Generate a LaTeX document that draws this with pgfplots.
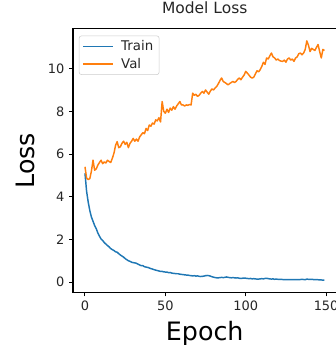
\documentclass[border=0pt]{standalone}
\usepackage{fontspec}
\setmainfont{DejaVu Sans}
\usepackage{pgfplots}
\pgfplotsset{compat=1.18}
\usepackage{pgfplotstable}
\definecolor{mplblue}{HTML}{1F77B4}
\definecolor{mplorange}{HTML}{FF7F0E}
\definecolor{mpltext}{HTML}{262626}

\pgfplotstableread{
ep train val
0 5.10 5.40
1 4.25 4.88
2 3.75 4.80
3 3.35 4.85
4 3.05 5.20
5 2.85 5.71
6 2.65 5.24
7 2.50 5.30
8 2.30 5.48
9 2.15 5.60
10 2.02 5.71
11 1.95 5.55
12 1.85 5.63
13 1.78 5.58
14 1.71 5.71
15 1.65 5.65
16 1.57 5.60
17 1.52 5.80
18 1.48 6.03
19 1.42 6.40
20 1.40 6.58
21 1.33 6.30
22 1.27 6.34
23 1.22 6.50
24 1.17 6.60
25 1.10 6.45
26 1.05 6.55
27 1.00 6.30
28 0.97 6.50
29 0.93 6.60
30 0.91 6.73
31 0.90 6.60
32 0.88 6.70
33 0.84 6.60
34 0.80 6.80
35 0.77 6.90
36 0.77 7.00
37 0.72 6.95
38 0.70 7.20
39 0.69 7.10
40 0.66 7.36
41 0.63 7.30
42 0.61 7.45
43 0.58 7.40
44 0.56 7.60
45 0.54 7.55
46 0.52 7.70
47 0.50 7.50
48 0.50 8.46
49 0.48 8.00
50 0.47 7.91
51 0.47 8.10
52 0.44 7.95
53 0.45 8.15
54 0.42 8.05
55 0.41 8.22
56 0.40 8.10
57 0.39 8.25
58 0.39 8.35
59 0.37 8.46
60 0.36 8.30
61 0.35 8.30
62 0.34 8.25
63 0.33 8.30
64 0.33 8.28
65 0.31 8.32
66 0.30 8.30
67 0.29 8.85
68 0.30 8.75
69 0.28 8.80
70 0.29 8.70
71 0.27 8.75
72 0.26 8.85
73 0.27 8.93
74 0.28 8.85
75 0.30 9.00
76 0.31 8.90
77 0.30 8.80
78 0.28 8.95
79 0.25 9.05
80 0.23 9.00
81 0.21 9.10
82 0.20 9.17
83 0.20 9.30
84 0.21 9.45
85 0.22 9.56
86 0.21 9.40
87 0.22 9.35
88 0.24 9.30
89 0.22 9.24
90 0.21 9.30
91 0.20 9.35
92 0.21 9.40
93 0.20 9.35
94 0.19 9.40
95 0.20 9.50
96 0.18 9.56
97 0.17 9.48
98 0.18 9.60
99 0.19 9.70
100 0.18 9.87
101 0.17 9.79
102 0.16 9.70
103 0.17 9.60
104 0.15 9.56
105 0.16 9.60
106 0.15 9.75
107 0.14 9.90
108 0.14 9.85
109 0.15 9.95
110 0.16 10.10
111 0.15 10.30
112 0.17 10.20
113 0.18 10.50
114 0.16 10.45
115 0.15 10.60
116 0.14 10.73
117 0.15 10.55
118 0.13 10.50
119 0.14 10.40
120 0.13 10.45
121 0.12 10.38
122 0.13 10.35
123 0.12 10.34
124 0.12 10.40
125 0.11 10.30
126 0.12 10.45
127 0.12 10.50
128 0.11 10.40
129 0.12 10.45
130 0.11 10.34
131 0.11 10.50
132 0.12 10.55
133 0.11 10.70
134 0.12 10.73
135 0.13 10.65
136 0.12 10.73
137 0.11 10.90
138 0.14 11.30
139 0.13 11.10
140 0.12 10.80
141 0.13 10.95
142 0.12 10.90
143 0.11 10.85
144 0.12 11.00
145 0.11 11.13
146 0.10 10.80
147 0.10 10.50
148 0.09 10.90
149 0.09 10.85
}\losstable

\begin{document}
\begin{tikzpicture}
\begin{axis}[
  name=ax,
  scale only axis,
  width=197.55pt, height=197.5pt,
  xmin=-7.45, xmax=156.45,
  ymin=-0.48, ymax=11.86,
  xtick={0,50,100,150},
  ytick={0,2,4,6,8,10},
  tick align=outside,
  major tick length=3pt,
  tick style={line width=0.75pt, color=black},
  xtick pos=bottom, ytick pos=left,
  axis line style={line width=0.8pt, color=black},
  /pgf/number format/assume math mode=true,
  ticklabel style={font=\fontsize{9.7}{11}\selectfont, text=mpltext},
  title={Model Loss},
  title style={font=\fontsize{11.6}{13}\selectfont, text=mpltext, at={(axis description cs:0.5,1.03)}, anchor=base, inner sep=0pt},
  xlabel={Epoch},
  ylabel={Loss},
  xlabel style={font=\fontsize{19}{22}\selectfont, text=black, at={(axis description cs:0.5,-0.1083)}, anchor=north, inner sep=0pt},
  ylabel style={font=\fontsize{19}{22}\selectfont, text=black, at={(axis description cs:-0.1443,0.5)}, anchor=south, inner sep=0pt},
  legend style={at={(axis description cs:0.022,0.975)}, anchor=north west,
    draw=black!20, rounded corners=2pt, fill=white, fill opacity=0.8, text opacity=1,
    font=\fontsize{10}{11.5}\selectfont, text=mpltext,
    inner xsep=2.5pt, inner ysep=1.5pt, row sep=0pt},
  legend cell align=left,
  legend image code/.code={\draw[#1] (0pt,0pt) -- (22.5pt,0pt); \path (26pt,0pt);},
]
\addplot[mplblue, line width=1.1pt, line join=round] table[x=ep, y=train] {\losstable};
\addlegendentry{Train}
\addplot[mplorange, line width=1.1pt, line join=round] table[x=ep, y=val] {\losstable};
\addlegendentry{Val}
\end{axis}
\pgfresetboundingbox
\useasboundingbox ([xshift=-54.75pt,yshift=-39.5pt]ax.south west) rectangle ([xshift=196.5pt,yshift=219.2pt]ax.south west);
\end{tikzpicture}
\end{document}
